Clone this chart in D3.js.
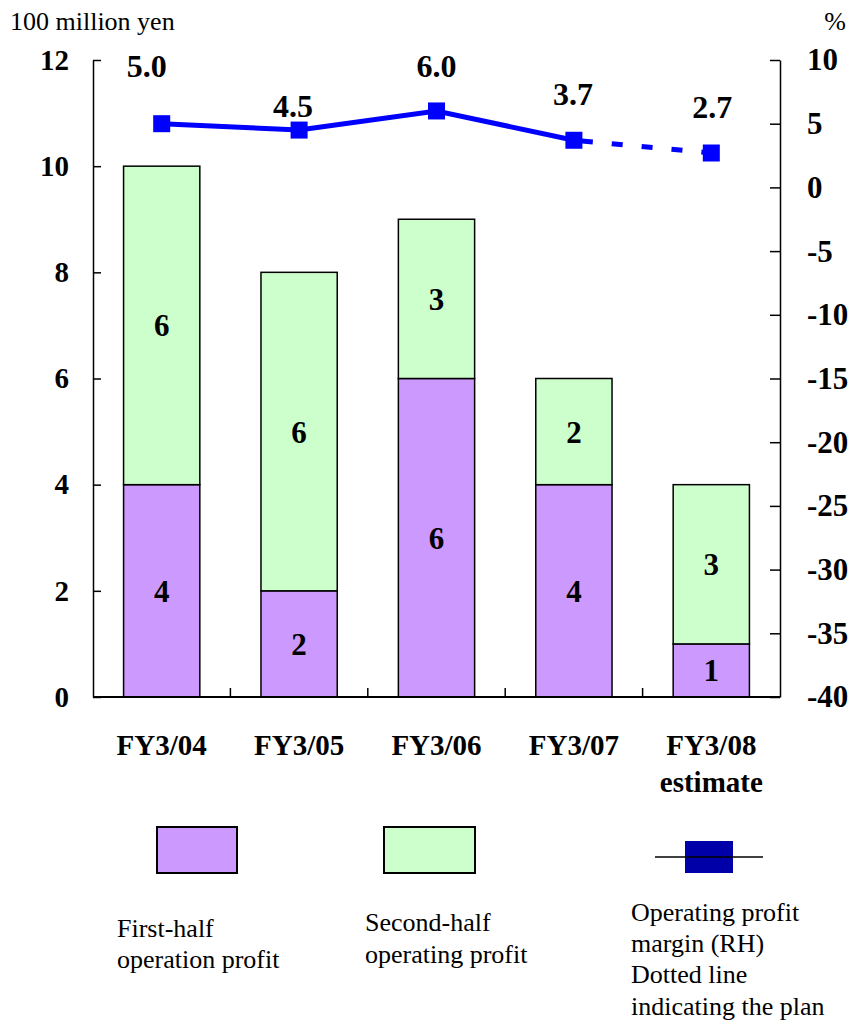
<!DOCTYPE html>
<html>
<head>
<meta charset="utf-8">
<script src="https://cdn.jsdelivr.net/npm/d3@7"></script>
<style>
  html, body { margin: 0; padding: 0; background: #fff; }
  svg { display: block; font-family: "Liberation Serif", "Times New Roman", serif; }
</style>
</head>
<body>
<svg id="chart" width="849" height="1022"></svg>
<script>
// Fiscal years and operating profit figures (100 million yen)
const categories = ["FY3/04", "FY3/05", "FY3/06", "FY3/07", "FY3/08"];
const categorySubLabels = ["", "", "", "", "estimate"];
const firstHalf = [4, 2, 6, 4, 1];
const secondHalf = [6, 6, 3, 2, 3];
// Operating profit margin (%), last value is the plan
const margin = [5.0, 4.5, 6.0, 3.7, 2.7];
const leftTicks = [0, 2, 4, 6, 8, 10, 12];
const rightTicks = [-40, -35, -30, -25, -20, -15, -10, -5, 0, 5, 10];

// Placement tweaks for the margin value labels (px)
const marginLabelLift = [47, 13, 34, 35, 35];
const marginLabelShift = [-15, -6, 0, -1, 1];

const svg = d3.select("#chart");
const plotLeft = 93, plotRight = 780, plotTop = 60, plotBottom = 697;

const x = d3.scaleBand().domain(categories).range([plotLeft, plotRight]).paddingInner(0).paddingOuter(0);
const yL = d3.scaleLinear().domain([0, 12]).range([plotBottom, plotTop]);
const yR = d3.scaleLinear().domain([-40, 10]).range([plotBottom, plotTop]);
const barW = x.bandwidth() * 0.555;

const serif = "'Liberation Serif'";

// Stacked bars
const stacks = categories.map((c, i) => ({ c, a: firstHalf[i], b: secondHalf[i] }));
const g = svg.append("g");
stacks.forEach(d => {
  const cx = x(d.c) + x.bandwidth() / 2;
  g.append("rect").attr("x", cx - barW / 2).attr("width", barW)
    .attr("y", yL(d.a)).attr("height", yL(0) - yL(d.a))
    .attr("fill", "#CC99FF").attr("stroke", "#000").attr("stroke-width", 1.5);
  g.append("rect").attr("x", cx - barW / 2).attr("width", barW)
    .attr("y", yL(d.a + d.b)).attr("height", yL(d.a) - yL(d.a + d.b))
    .attr("fill", "#CCFFCC").attr("stroke", "#000").attr("stroke-width", 1.5);
  [[0, d.a], [d.a, d.a + d.b]].forEach(([lo, hi]) => {
    g.append("text").attr("x", cx).attr("y", (yL(lo) + yL(hi)) / 2 + 11)
      .attr("text-anchor", "middle")
      .style("font", `bold 31px ${serif}`).text(hi - lo);
  });
});

// Axes
const axisStyle = size => sel => {
  sel.selectAll("path, line").attr("stroke", "#000").attr("stroke-width", 1.5);
  sel.selectAll("text").style("font", `bold ${size}px ${serif}`).attr("fill", "#000");
};
svg.append("g").attr("transform", `translate(${plotLeft},0)`)
  .call(d3.axisRight(yL).tickValues(leftTicks).tickSize(8).tickSizeOuter(0).tickFormat(d => String(d)))
  .call(axisStyle(29))
  .call(s => s.selectAll("text").attr("x", -24).attr("text-anchor", "end"));
svg.append("g").attr("transform", `translate(${plotRight},0)`)
  .call(d3.axisLeft(yR).tickValues(rightTicks).tickSize(10).tickSizeOuter(0).tickFormat(d => String(d)))
  .call(axisStyle(31))
  .call(s => s.selectAll("text").attr("x", 27).attr("text-anchor", "start"));
// Bottom axis with ticks between categories
svg.append("line").attr("x1", plotLeft).attr("x2", plotRight).attr("y1", plotBottom).attr("y2", plotBottom)
  .attr("stroke", "#000").attr("stroke-width", 2);
categories.slice(1).forEach(c => {
  svg.append("line").attr("x1", x(c)).attr("x2", x(c)).attr("y1", plotBottom).attr("y2", plotBottom - 9)
    .attr("stroke", "#000").attr("stroke-width", 1.5);
});
categories.forEach((c, i) => {
  const cx = x(c) + x.bandwidth() / 2;
  svg.append("text").attr("x", cx).attr("y", 755).attr("text-anchor", "middle")
    .style("font", `bold 29px ${serif}`).text(c);
  if (categorySubLabels[i]) {
    svg.append("text").attr("x", cx).attr("y", 792).attr("text-anchor", "middle")
      .style("font", `bold 29px ${serif}`).text(categorySubLabels[i]);
  }
});

// Unit labels
svg.append("text").attr("x", 10).attr("y", 30).style("font", `26px ${serif}`).text("100 million yen");
svg.append("text").attr("x", 846).attr("y", 30).attr("text-anchor", "end").style("font", `26px ${serif}`).text("%");

// Margin line: solid for results, dashed for the plan
const pts = margin.map((v, i) => [x(categories[i]) + x.bandwidth() / 2, yR(v)]);
const line = d3.line();
svg.append("path").attr("d", line(pts.slice(0, 4))).attr("fill", "none")
  .attr("stroke", "#0000FF").attr("stroke-width", 5);
svg.append("path").attr("d", line(pts.slice(3))).attr("fill", "none")
  .attr("stroke", "#0000FF").attr("stroke-width", 5).attr("stroke-dasharray", "11 19")
  .attr("stroke-dashoffset", -8);
pts.forEach(([px, py]) => {
  svg.append("rect").attr("x", px - 8.5).attr("y", py - 8.5).attr("width", 17).attr("height", 17).attr("fill", "#0000FF");
});
pts.forEach(([px, py], i) => {
  svg.append("text").attr("x", px + marginLabelShift[i]).attr("y", py - marginLabelLift[i]).attr("text-anchor", "middle")
    .style("font", `bold 32px ${serif}`).text(margin[i].toFixed(1));
});

// Legend
const lg = svg.append("g");
lg.append("rect").attr("x", 157).attr("y", 827).attr("width", 80).attr("height", 46)
  .attr("fill", "#CC99FF").attr("stroke", "#000").attr("stroke-width", 2);
lg.append("rect").attr("x", 384).attr("y", 827).attr("width", 91).attr("height", 46)
  .attr("fill", "#CCFFCC").attr("stroke", "#000").attr("stroke-width", 2);
lg.append("rect").attr("x", 685).attr("y", 841).attr("width", 48).attr("height", 32).attr("fill", "#0000A8");
lg.append("line").attr("x1", 655).attr("x2", 763).attr("y1", 857).attr("y2", 857).attr("stroke", "#000").attr("stroke-width", 1.5);

const legendText = [
  { x: 117, lines: ["First-half", "operation profit"], y0: 937, dy: 31 },
  { x: 365, lines: ["Second-half", "operating profit"], y0: 931, dy: 32 },
  { x: 631, lines: ["Operating profit", "margin (RH)", "Dotted line", "indicating the plan"], y0: 921, dy: 31.2 }
];
legendText.forEach(t => {
  t.lines.forEach((s, j) => {
    lg.append("text").attr("x", t.x).attr("y", t.y0 + j * t.dy).style("font", `26px ${serif}`).text(s);
  });
});
</script>
</body>
</html>
